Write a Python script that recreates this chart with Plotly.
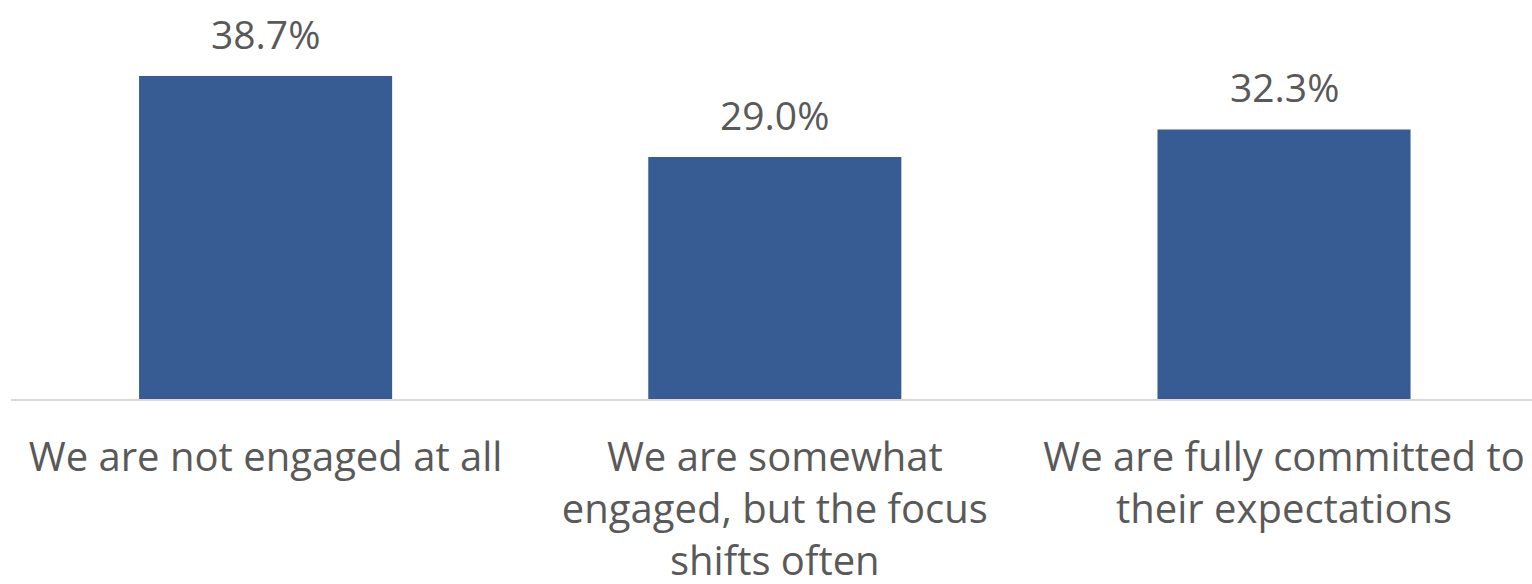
import plotly.graph_objects as go

categories = ["We are not engaged at all",
              "We are somewhat<br>engaged, but the focus<br>shifts often",
              "We are fully committed to<br>their expectations"]
values = [38.7, 29.0, 32.3]
value_labels = ["38.7%", "29.0%", "32.3%"]

xs = list(range(len(categories)))
fig = go.Figure(go.Bar(
    x=xs, y=values,
    marker=dict(color="#365C93", line=dict(width=0)),
    width=0.497,
))
for xi, v, lab in zip(xs, values, value_labels):
    fig.add_annotation(x=xi, y=v, text=lab, showarrow=False, yanchor="bottom",
                       yshift=14, font=dict(family="Open Sans", size=39, color="#595959"))
fig.update_layout(
    width=1532, height=584,
    margin=dict(l=11, r=0, t=0, b=185, autoexpand=False),
    paper_bgcolor="white", plot_bgcolor="white",
    showlegend=False,
    xaxis=dict(tickmode="array", tickvals=xs, ticktext=categories,
               range=[-0.5, 2.487], showgrid=False, zeroline=False, automargin=False,
               showline=True, linecolor="#d9d9d9", linewidth=2,
               ticks="outside", ticklen=22, tickcolor="rgba(0,0,0,0)",
               tickfont=dict(family="Open Sans", size=40, color="#595959"), tickangle=0),
    yaxis=dict(range=[0, 47.8], visible=False, automargin=False),
)
fig.write_html("out.html", config={"displayModeBar": False},
               post_script="document.body.style.margin='0';")
